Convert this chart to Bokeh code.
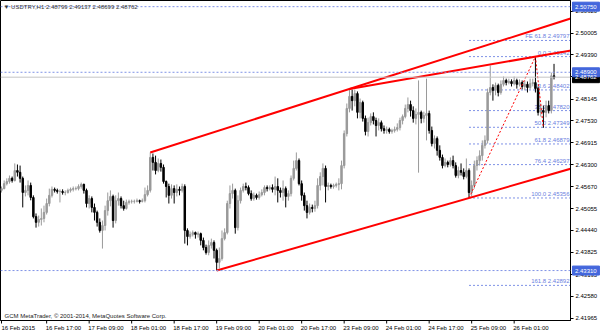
from bokeh.plotting import figure
from bokeh.models import (ColumnDataSource, FixedTicker, LinearAxis, Range1d, Label, Span,
                          NumeralTickFormatter)
from bokeh.embed import file_html
from bokeh.resources import INLINE
from bokeh.core.properties import value

# ---------------- data (USDTRY, H1) ----------------
first_open = 2.4557
closes = [
 2.4562,2.4576,2.4582,2.4591,2.4585,2.4613,2.4608,2.4591,2.4551,2.4557,
 2.4571,2.4537,2.4483,2.4467,2.4475,2.4478,2.4495,2.4520,2.4543,2.4560,
 2.4557,2.4554,2.4554,2.4551,2.4551,2.4557,2.4560,2.4562,2.4562,2.4568,
 2.4574,2.4557,2.4520,2.4534,2.4509,2.4495,2.4467,2.4444,2.4458,2.4500,
 2.4528,2.4540,2.4472,2.4528,2.4534,2.4514,2.4506,2.4523,2.4526,2.4526,
 2.4526,2.4528,2.4526,2.4528,2.4545,2.4557,2.4650,2.4636,2.4613,2.4633,
 2.4622,2.4582,2.4568,2.4543,2.4562,2.4551,2.4560,2.4557,2.4568,2.4444,
 2.4427,2.4433,2.4438,2.4433,2.4435,2.4416,2.4396,2.4382,2.4402,2.4410,
 2.4388,2.4354,2.4365,2.4421,2.4438,2.4520,2.4548,2.4557,2.4452,2.4528,
 2.4557,2.4568,2.4565,2.4548,2.4534,2.4543,2.4537,2.4545,2.4551,2.4565,
 2.4562,2.4565,2.4560,2.4568,2.4557,2.4551,2.4562,2.4540,2.4548,2.4591,
 2.4619,2.4641,2.4576,2.4543,2.4514,2.4495,2.4509,2.4506,2.4514,2.4571,
 2.4596,2.4619,2.4568,2.4571,2.4568,2.4571,2.4574,2.4576,2.4627,2.4717,
 2.4788,2.4822,2.4810,2.4830,2.4777,2.4805,2.4760,2.4723,2.4748,2.4765,
 2.4754,2.4740,2.4748,2.4731,2.4726,2.4729,2.4723,2.4726,2.4729,2.4734,
 2.4754,2.4765,2.4788,2.4799,2.4782,2.4760,2.4771,2.4777,2.4760,2.4768,
 2.4774,2.4726,2.4689,2.4703,2.4670,2.4650,2.4627,2.4636,2.4630,2.4641,
 2.4627,2.4599,2.4613,2.4608,2.4596,2.4613,2.4551,2.4571,2.4627,2.4641,
 2.4655,2.4684,2.4698,2.4833,2.4847,2.4839,2.4853,2.4833,2.4856,2.4867,
 2.4861,2.4864,2.4858,2.4867,2.4856,2.4861,2.4850,2.4856,2.4847,2.4858,
 2.4861,2.4844,2.4777,2.4782,2.4777,2.4796,2.4782,2.48799,2.48762]
highs = [
 2.4568,2.4585,2.4591,2.4599,2.4596,2.4633,2.4630,2.4627,2.4596,2.4571,
 2.4585,2.4579,2.4543,2.4492,2.4486,2.4506,2.4514,2.4534,2.4562,2.4568,
 2.4565,2.4562,2.4560,2.4560,2.4557,2.4562,2.4565,2.4568,2.4568,2.4574,
 2.4579,2.4576,2.4562,2.4543,2.4540,2.4520,2.4500,2.4478,2.4472,2.4514,
 2.4551,2.4557,2.4545,2.4543,2.4551,2.4540,2.4528,2.4531,2.4531,2.4531,
 2.4531,2.4534,2.4531,2.4534,2.4565,2.4571,2.4664,2.4661,2.4655,2.4647,
 2.4644,2.4630,2.4585,2.4576,2.4574,2.4571,2.4574,2.4568,2.4576,2.4574,
 2.4450,2.4441,2.4444,2.4441,2.4441,2.4438,2.4424,2.4404,2.4416,2.4421,
 2.4416,2.4393,2.4396,2.4444,2.4450,2.4528,2.4571,2.4576,2.4562,2.4543,
 2.4565,2.4576,2.4579,2.4571,2.4557,2.4551,2.4548,2.4554,2.4560,2.4571,
 2.4571,2.4571,2.4574,2.4596,2.4591,2.4565,2.4585,2.4568,2.4557,2.4599,
 2.4641,2.4664,2.4647,2.4585,2.4551,2.4528,2.4520,2.4517,2.4528,2.4591,
 2.4608,2.4633,2.4627,2.4579,2.4576,2.4576,2.4579,2.4591,2.4641,2.4726,
 2.4802,2.4843,2.4841,2.4841,2.4836,2.4816,2.4810,2.4768,2.4762,2.4774,
 2.4777,2.4762,2.4760,2.4754,2.4740,2.4737,2.4734,2.4731,2.4737,2.4746,
 2.4762,2.4771,2.4799,2.4819,2.4810,2.4794,2.4788,2.4867,2.4782,2.4779,
 2.4872,2.4782,2.4737,2.4712,2.4709,2.4684,2.4658,2.4647,2.4641,2.4650,
 2.4655,2.4636,2.4624,2.4633,2.4619,2.4647,2.4619,2.4585,2.4641,2.4653,
 2.4670,2.4698,2.4712,2.4844,2.4909,2.4856,2.4861,2.4858,2.4867,2.4878,
 2.4872,2.4872,2.4870,2.4878,2.4872,2.4870,2.4867,2.4867,2.4864,2.4872,
 2.4872,2.49342,2.4850,2.4802,2.4796,2.4810,2.4810,2.4889,2.49137]
lows = [
 2.4551,2.4560,2.4571,2.4576,2.4579,2.4582,2.4596,2.4579,2.4509,2.4540,
 2.4543,2.4529,2.4478,2.4452,2.4455,2.4458,2.4467,2.4489,2.4512,2.4537,
 2.4551,2.4548,2.4523,2.4545,2.4543,2.4548,2.4551,2.4554,2.4557,2.4557,
 2.4562,2.4548,2.4509,2.4506,2.4495,2.4472,2.4455,2.4438,2.4393,2.4444,
 2.4486,2.4512,2.4452,2.4464,2.4514,2.4506,2.4500,2.4503,2.4517,2.4520,
 2.4520,2.4523,2.4520,2.4523,2.4523,2.4540,2.4551,2.4613,2.4602,2.4608,
 2.4610,2.4576,2.4537,2.4520,2.4534,2.4520,2.4540,2.4543,2.4551,2.4407,
 2.4402,2.4421,2.4427,2.4421,2.4424,2.4402,2.4388,2.4376,2.4374,2.4393,
 2.4365,2.4331,2.4337,2.4359,2.4416,2.4433,2.4506,2.4534,2.4435,2.4444,
 2.4520,2.4551,2.4557,2.4543,2.4528,2.4528,2.4531,2.4531,2.4540,2.4543,
 2.4554,2.4557,2.4551,2.4543,2.4523,2.4537,2.4528,2.4509,2.4528,2.4540,
 2.4585,2.4613,2.4571,2.4528,2.4500,2.4478,2.4489,2.4495,2.4497,2.4506,
 2.4557,2.4571,2.4523,2.4557,2.4562,2.4562,2.4565,2.4557,2.4560,2.4619,
 2.4709,2.4777,2.4782,2.4794,2.4760,2.4760,2.4751,2.4712,2.4709,2.4740,
 2.4743,2.4709,2.4726,2.4723,2.4717,2.4717,2.4717,2.4717,2.4720,2.4723,
 2.4726,2.4743,2.4760,2.4777,2.4765,2.4748,2.4743,2.4607,2.4746,2.4748,
 2.4698,2.4717,2.4681,2.4675,2.4655,2.4641,2.4619,2.4622,2.4622,2.4624,
 2.4619,2.4593,2.4591,2.4599,2.4588,2.4591,2.45356,2.4540,2.4562,2.4613,
 2.4627,2.4641,2.4675,2.4689,2.4825,2.4810,2.4825,2.4822,2.4827,2.4850,
 2.4853,2.4856,2.4850,2.4853,2.4844,2.4850,2.4842,2.4839,2.4833,2.4842,
 2.4850,2.4833,2.4768,2.4765,2.47334,2.4763,2.4774,2.4774,2.48699]
opens = [first_open] + closes[:-1]   # continuous 24h market: each bar opens at prior close

price_ticks = [2.41965, 2.42580, 2.43195, 2.43825, 2.44440, 2.45055, 2.45670, 2.46300,
               2.46915, 2.47530, 2.48145, 2.48775, 2.49390, 2.50005, 2.50620]
time_ticks = [0, 17, 33, 49, 65, 81, 97, 113, 129, 145, 161, 177, 193]
time_labels = ["16 Feb 2015", "16 Feb 17:00", "17 Feb 09:00", "18 Feb 01:00", "18 Feb 17:00",
               "19 Feb 09:00", "20 Feb 01:00", "20 Feb 17:00", "23 Feb 09:00", "24 Feb 01:00",
               "24 Feb 17:00", "25 Feb 09:00", "26 Feb 01:00"]

# trend lines (bar index, price)
upper_bars, upper_prices = [56, 131], [2.4664, 2.4843]
upper2_bars, upper2_prices = [131, 201], [2.4843, 2.49342]
lower_bars, lower_prices = [81, 176], [2.4331, 2.45356]
# fibonacci tool points A, B, C
fib_bars, fib_prices_abc = [176, 201, 204], [2.45356, 2.49342, 2.47334]
fib_levels = ["0.0", "23.6", "38.2", "50.0", "61.8", "76.4", "100.0", "161.8"]
fib_values = [2.49342, 2.48402, 2.47820, 2.47349, 2.46879, 2.46297, 2.45356, 2.42892]
fe_level, fe_value = "FE 61.8", 2.49797
hlines = [2.50750, 2.48900, 2.43310]
bid = 2.48762
ohlc_text = "2.48799 2.49137 2.48699 2.48762"

# ---------------- layout helpers (pixel -> data for annotation placement) ----------------
PXB, X0 = 2.661, 1.0
PXP = 3547.0
def X(px):
    return (px - X0) / PXB
def Y(py):
    return 2.46300 - (py - 164) / PXP

FONT = "Liberation Sans"
BLUE_LINE = "#7f92e6"
BLUE_TEXT = "#6b80e0"
LABEL_SHIFT = 6.3   # time labels start at their bar (MT4 style): centre offset in bars

p = figure(width=600, height=333, output_backend="svg", toolbar_location=None,
           x_range=Range1d(X(0), X(571)), y_range=Range1d(Y(320), Y(0)),
           min_border_left=0, min_border_right=29, min_border_top=0, min_border_bottom=13,
           x_axis_location=None, y_axis_location=None)
p.title.visible = False
for g in p.grid:
    g.visible = False
p.outline_line_color = "black"
p.outline_line_width = 1
p.background_fill_color = "white"
p.border_fill_color = "white"

# axes
ya = LinearAxis(ticker=FixedTicker(ticks=price_ticks), formatter=NumeralTickFormatter(format="0.00000"))
ya.major_label_text_font = FONT
ya.major_label_text_font_size = "6px"
ya.major_label_text_color = "black"
ya.axis_line_color = "black"
ya.major_tick_line_color = "black"
ya.major_tick_out = 3
ya.major_tick_in = 0
ya.minor_tick_out = 0
ya.minor_tick_in = 0
ya.major_label_standoff = 2
p.add_layout(ya, "right")

shifted = [t + LABEL_SHIFT for t in time_ticks]
xa = LinearAxis(ticker=FixedTicker(ticks=shifted),
                major_label_overrides={t: l for t, l in zip(shifted, time_labels)})
xa.major_label_text_font = FONT
xa.major_label_text_font_size = "6px"
xa.major_label_text_color = "black"
xa.axis_line_color = "black"
xa.major_tick_line_color = None
xa.major_tick_out = 2
xa.major_tick_in = 0
xa.minor_tick_out = 0
xa.minor_tick_in = 0
xa.major_label_standoff = 2
p.add_layout(xa, "below")

# MT4-style time tick marks at the bars themselves (drawn unclipped below the frame)
p.segment(x0=time_ticks, x1=time_ticks, y0=[Y(320)] * len(time_ticks), y1=[Y(323)] * len(time_ticks),
          line_color="black", line_width=1, level="overlay")

# horizontal lines
for h in hlines:
    p.add_layout(Span(location=h, dimension="width", line_color=BLUE_LINE,
                      line_dash="2 2", line_width=1))
p.add_layout(Span(location=bid, dimension="width", line_color="#c4c4c4", line_width=1))

# fib level lines + labels
x_end = X(571) + 1
n_f = len(fib_values) + 1
fib_src = ColumnDataSource(dict(
    x0=[fib_bars[0]] * n_f, x1=[x_end] * n_f, xt=[X(570)] * n_f,
    y=fib_values + [fe_value],
    lab=[f"{l} {v:.5f}" for l, v in zip(fib_levels, fib_values)] + [f"{fe_level} {fe_value:.5f}"]))
p.segment(x0="x0", y0="y", x1="x1", y1="y", source=fib_src, line_color=BLUE_LINE,
          line_dash="2 2", line_width=1)
p.text(x="xt", y="y", text="lab", source=fib_src, text_align="right", text_baseline="bottom",
       text_font=value(FONT), text_font_size="6px", text_color=BLUE_TEXT, y_offset=-1)

# candles
colors = ["#9a9a9a" if c >= o else "#000000" for o, c in zip(opens, closes)]
src = ColumnDataSource(dict(
    x=list(range(len(closes))), o=opens, h=highs, l=lows, c=closes,
    top=[max(o, c) for o, c in zip(opens, closes)],
    bot=[min(o, c) for o, c in zip(opens, closes)],
    color=colors))
p.segment(x0="x", y0="l", x1="x", y1="h", source=src, line_color="color", line_width=1)
p.vbar(x="x", top="top", bottom="bot", width=0.55, source=src, fill_color="color",
       line_color="color", line_width=1)

# red trend lines (rays extended to the right edge)
def ray(bx, py):
    slope = (py[1] - py[0]) / (bx[1] - bx[0])
    return [bx[0], x_end], [py[0], py[0] + slope * (x_end - bx[0])]
for bx, py in [(upper_bars, upper_prices), (upper2_bars, upper2_prices), (lower_bars, lower_prices)]:
    xs, ys = ray(bx, py)
    p.line(xs, ys, line_color="#ff0000", line_width=2)

# fib dotted red connectors A-B-C
p.line(fib_bars, fib_prices_abc, line_color="#ff0000", line_width=1, line_dash="2 2")

# header text and copyright
p.add_layout(Label(x=X(3), y=Y(6), text="\u25bc  USDTRY,H1  " + ohlc_text,
                   text_font=FONT, text_font_size="6px", text_color="#333333",
                   text_baseline="middle"))
p.add_layout(Label(x=X(4), y=Y(315), text="GCM MetaTrader, \u00a9 2001-2014, MetaQuotes Software Corp.",
                   text_font=FONT, text_font_size="6px", text_color="#222222",
                   text_baseline="middle"))

# price markers on the right scale (overlay level glyphs, drawn over the axis area)
mark_prices = [bid] + hlines
mark_colors = ["#000000", "#4467dc", "#4467dc", "#4467dc"]
half_h = 4.5 / PXP
mk = ColumnDataSource(dict(
    left=[X(573)] * 4, right=[X(600)] * 4,
    top=[v + half_h - (1 / PXP if i == 0 else 0) for i, v in enumerate(mark_prices)],
    bottom=[v - half_h - (1 / PXP if i == 0 else 0) for i, v in enumerate(mark_prices)],
    y=mark_prices, xt=[X(575.5)] * 4,
    lab=[f"{v:.5f}" for v in mark_prices], color=mark_colors))
p.quad(left="left", right="right", top="top", bottom="bottom", source=mk,
       fill_color="color", line_color="color", level="overlay")
p.text(x="xt", y="y", text="lab", source=mk, text_align="left", text_baseline="middle",
       text_font=value(FONT), text_font_size="6px", text_color="white", level="overlay")

open("out.html", "w").write(file_html(p, INLINE))
